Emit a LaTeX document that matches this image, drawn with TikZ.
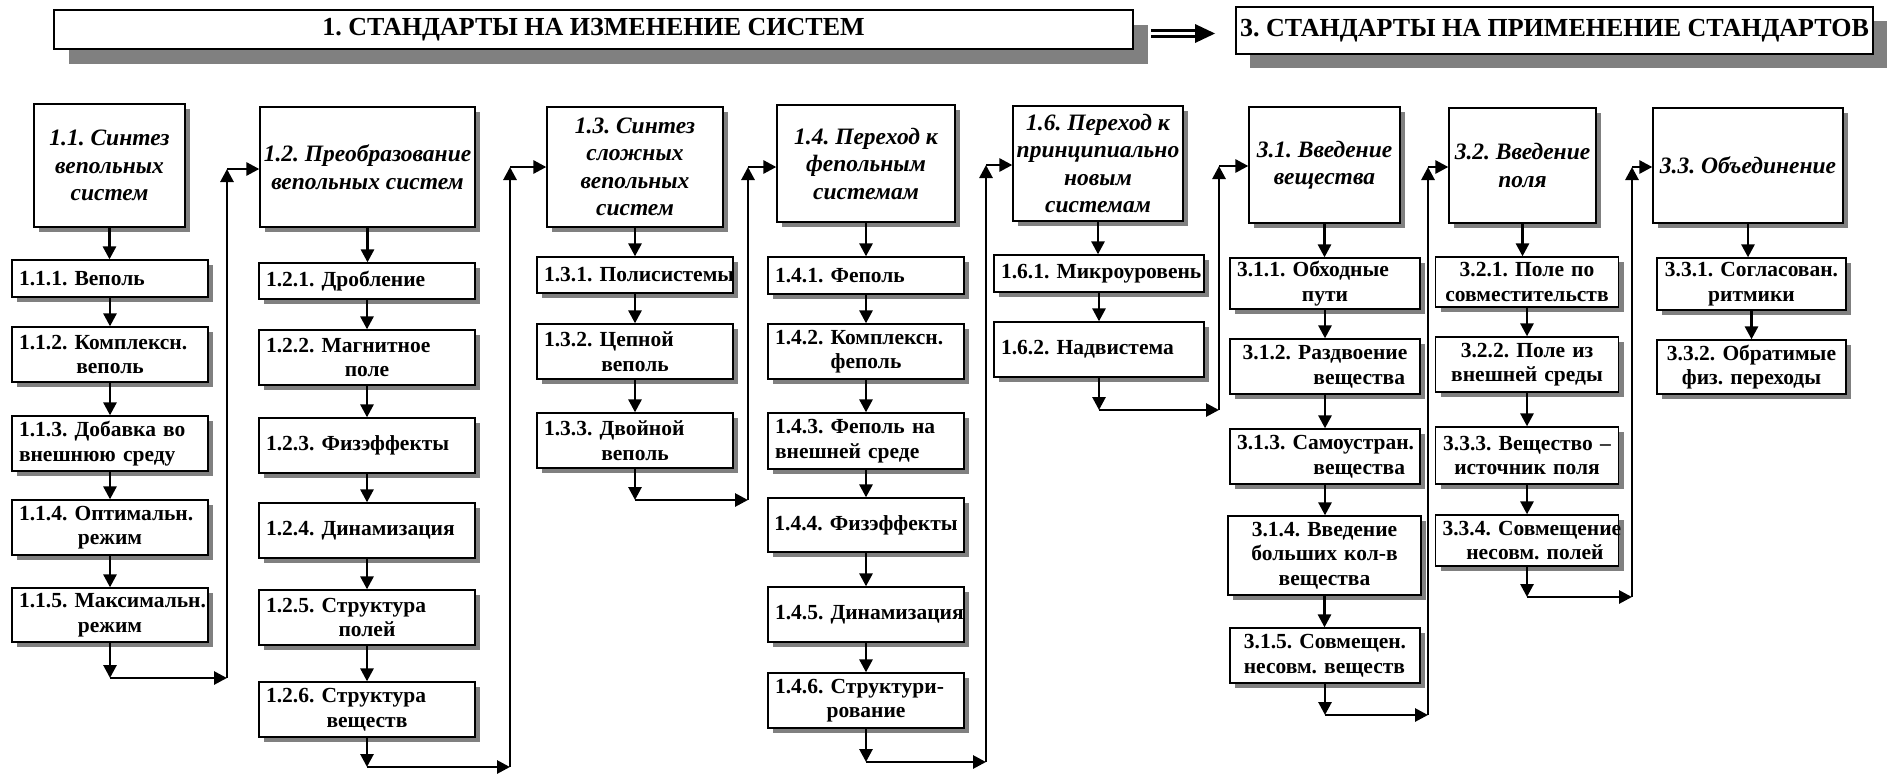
\documentclass[tikz,border=0pt]{standalone}
\usepackage{fontspec}
\setmainfont{Liberation Serif}
\usetikzlibrary{arrows.meta,shadows}
\definecolor{shadowgray}{HTML}{808080}
\newcommand\lnL[1]{\makebox[\linewidth][l]{#1}}
\newcommand\lnC[1]{\makebox[\linewidth][c]{#1}}
\newcommand\lnR[1]{\makebox[\linewidth][r]{#1\hspace*{8pt}}}
\tikzset{
  box/.style={draw, line width=1.3pt, fill=white,
    general shadow={fill=shadowgray, shadow xshift=5pt, shadow yshift=-5pt},
    inner xsep=7pt, inner ysep=1pt, align=left,
    font=\fontsize{21.5}{24.5}\selectfont\bfseries\frenchspacing},
  sz/.style n args={2}{minimum width=#1, minimum height=#2, text width=#1-14},
  ttl/.style={draw, line width=1.3pt, fill=white,
    general shadow={fill=shadowgray, shadow xshift=5pt, shadow yshift=-5pt},
    inner xsep=2pt, inner ysep=1pt, align=center,
    font=\fontsize{23.5}{27.5}\selectfont\bfseries\itshape\frenchspacing},
  tsz/.style n args={2}{minimum width=#1, minimum height=#2},
  banner/.style={draw, line width=1.3pt, fill=white, inner sep=2pt,
    font=\fontsize{26}{30}\selectfont\bfseries\frenchspacing},
  arr/.style={line width=2.8pt, -{Triangle[length=13pt,width=13pt]}},
}
\begin{document}
\begin{tikzpicture}[x=1pt,y=-1pt]
\useasboundingbox (0,0) rectangle (1894,774);

% banners
\node[banner, general shadow={fill=shadowgray, shadow xshift=15pt, shadow yshift=-15pt},
  minimum width=1079, minimum height=39] (ban1) at (593.5,29.5) {1. СТАНДАРТЫ НА ИЗМЕНЕНИЕ СИСТЕМ};
\node[banner, general shadow={fill=shadowgray, shadow xshift=14pt, shadow yshift=-14pt},
  minimum width=637, minimum height=47] (ban2) at (1554.5,30.5) {3. СТАНДАРТЫ НА ПРИМЕНЕНИЕ СТАНДАРТОВ};
\coordinate (da) at (1151,33.5);
\coordinate (db) at (1215,33.5);
\draw[line width=2.8pt, double=white, double distance=3pt] (da) -- ([xshift=-18pt]db);
\fill (db) -- ++(-20,9.5) -- ++(0,-19) -- cycle;

% column 1
\node[ttl, tsz={151}{123}] (n11) at (109.5,165.5) {1.1. Синтез\\вепольных\\систем};
\node[box, sz={196}{37}] (n111) at (110,278.5) {\lnL{1.1.1. Веполь}};
\node[box, sz={196}{55}] (n112) at (110,354.5) {\lnL{1.1.2. Комплексн.}\\\lnC{веполь}};
\node[box, sz={196}{55}] (n113) at (110,443.5) {\lnL{1.1.3. Добавка во}\\\lnL{внешнюю среду}};
\node[box, sz={196}{55}] (n114) at (110,527.5) {\lnL{1.1.4. Оптимальн.}\\\lnC{режим}};
\node[box, sz={196}{54}] (n115) at (110,615) {\lnL{1.1.5. Максимальн.}\\\lnC{режим}};

% column 2
\node[ttl, tsz={215}{120}] (n12) at (367.5,167) {1.2. Преобразование\\вепольных систем};
\node[box, sz={216}{36}] (n121) at (367,281) {\lnL{1.2.1. Дробление}};
\node[box, sz={216}{55}] (n122) at (367,357.5) {\lnL{1.2.2. Магнитное}\\\lnC{поле}};
\node[box, sz={216}{55}] (n123) at (367,445.5) {\lnL{1.2.3. Физэффекты}};
\node[box, sz={216}{55}] (n124) at (367,530.5) {\lnL{1.2.4. Динамизация}};
\node[box, sz={216}{55}] (n125) at (367,617.5) {\lnL{1.2.5. Структура}\\\lnC{полей}};
\node[box, sz={216}{55}] (n126) at (367,709.5) {\lnL{1.2.6. Структура}\\\lnC{веществ}};

% column 3
\node[ttl, tsz={176}{120}] (n13) at (635,167) {1.3. Синтез\\сложных\\вепольных\\систем};
\node[box, sz={196}{36}] (n131) at (635,275) {\lnL{1.3.1. Полисистемы}};
\node[box, sz={196}{55}] (n132) at (635,351.5) {\lnL{1.3.2. Цепной}\\\lnC{веполь}};
\node[box, sz={196}{55}] (n133) at (635,440.5) {\lnL{1.3.3. Двойной}\\\lnC{веполь}};

% column 4
\node[ttl, tsz={178}{117}] (n14) at (866,163.5) {1.4. Переход к\\фепольным\\системам};
\node[box, sz={196}{37}] (n141) at (866,275.5) {\lnL{1.4.1. Феполь}};
\node[box, sz={196}{55}] (n142) at (866,351.5) {\lnL{1.4.2. Комплексн.}\\\lnC{феполь}};
\node[box, sz={196}{56}] (n143) at (866,441) {\lnL{1.4.3. Феполь на}\\\lnL{внешней среде}};
\node[box, sz={196}{54}] (n144) at (866,525) {\lnC{1.4.4. Физэффекты}};
\node[box, sz={196}{55}] (n145) at (866,614.5) {\lnL{1.4.5. Динамизация}};
\node[box, sz={196}{55}] (n146) at (866,700.5) {\lnL{1.4.6. Структури-}\\\lnC{рование}};

% column 5
\node[ttl, tsz={170}{115}] (n16) at (1098,163.5) {1.6. Переход к\\принципиально\\новым\\системам};
\node[box, sz={210}{37}] (n161) at (1099,273.5) {\lnL{1.6.1. Микроуровень}};
\node[box, sz={210}{55}] (n162) at (1099,349.5) {\lnL{1.6.2. Надвистема}};

% column 6
\node[ttl, tsz={151}{116}] (n31) at (1324.5,165) {3.1. Введение\\вещества};
\node[box, sz={190}{51}] (n311) at (1325,283.5) {\lnL{3.1.1. Обходные}\\\lnC{пути}};
\node[box, sz={190}{55}] (n312) at (1325,366.5) {\lnC{3.1.2. Раздвоение}\\\lnR{вещества}};
\node[box, sz={190}{55}] (n313) at (1325,456.5) {\lnL{3.1.3. Самоустран.}\\\lnR{вещества}};
\node[box, sz={193}{79}] (n314) at (1324.5,555.5) {\lnC{3.1.4. Введение}\\\lnC{больших кол-в}\\\lnC{вещества}};
\node[box, sz={190}{55}] (n315) at (1325,655.5) {\lnC{3.1.5. Совмещен.}\\\lnR{несовм. веществ}};

% column 7
\node[ttl, tsz={147}{115}] (n32) at (1522.5,165.5) {3.2. Введение\\поля};
\node[box, sz={183}{50}] (n321) at (1527,282) {\lnC{3.2.1. Поле по}\\\lnC{совместительств}};
\node[box, sz={183}{55}] (n322) at (1527,364.5) {\lnC{3.2.2. Поле из}\\\lnC{внешней среды}};
\node[box, sz={183}{57}] (n323) at (1527,455.5) {\lnC{3.3.3. Вещество –}\\\lnC{источник поля}};
\node[box, sz={183}{51}] (n324) at (1527,540.5) {\lnL{3.3.4. Совмещение}\\\lnR{несовм. полей}};

% column 8
\node[ttl, tsz={190}{115}] (n33) at (1748,165.5) {3.3. Объединение};
\node[box, sz={189}{52}] (n331) at (1751.5,284) {\lnC{3.3.1. Согласован.}\\\lnC{ритмики}};
\node[box, sz={189}{54}] (n332) at (1751.5,367) {\lnC{3.3.2. Обратимые}\\\lnC{физ. переходы}};

% vertical arrows inside columns
\foreach \a/\b in {n11/n111,n111/n112,n112/n113,n113/n114,n114/n115,
  n12/n121,n121/n122,n122/n123,n123/n124,n124/n125,n125/n126,
  n13/n131,n131/n132,n132/n133,
  n14/n141,n141/n142,n142/n143,n143/n144,n144/n145,n145/n146,
  n16/n161,n161/n162,
  n31/n311,n311/n312,n312/n313,n313/n314,n314/n315,
  n32/n321,n321/n322,n322/n323,n323/n324,
  n33/n331,n331/n332}
  \draw[arr] (\a.south) -- (\a.south |- \b.north);

% column links
\coordinate (u1) at (227,678);  \coordinate (t1) at (227,169);
\coordinate (u2) at (510,767);  \coordinate (t2) at (510,167);
\coordinate (u3) at (748,500);  \coordinate (t3) at (748,167);
\coordinate (u4) at (986,762);  \coordinate (t4) at (986,165);
\coordinate (u5) at (1219,410); \coordinate (t5) at (1219,166);
\coordinate (u6) at (1428,715); \coordinate (t6) at (1428,167);
\coordinate (u7) at (1632,597); \coordinate (t7) at (1632,167);
\foreach \last/\i/\next in {n115/1/n12, n126/2/n13, n133/3/n14, n146/4/n16,
  n162/5/n31, n315/6/n32, n324/7/n33} {
  \draw[arr] (\last.south) -- (\last.south |- u\i);
  \draw[arr] (\last.south |- u\i) -- (u\i);
  \draw[arr] (u\i) -- (t\i);
  \draw[arr] (t\i) -- (t\i -| \next.west);
}
\end{tikzpicture}
\end{document}
